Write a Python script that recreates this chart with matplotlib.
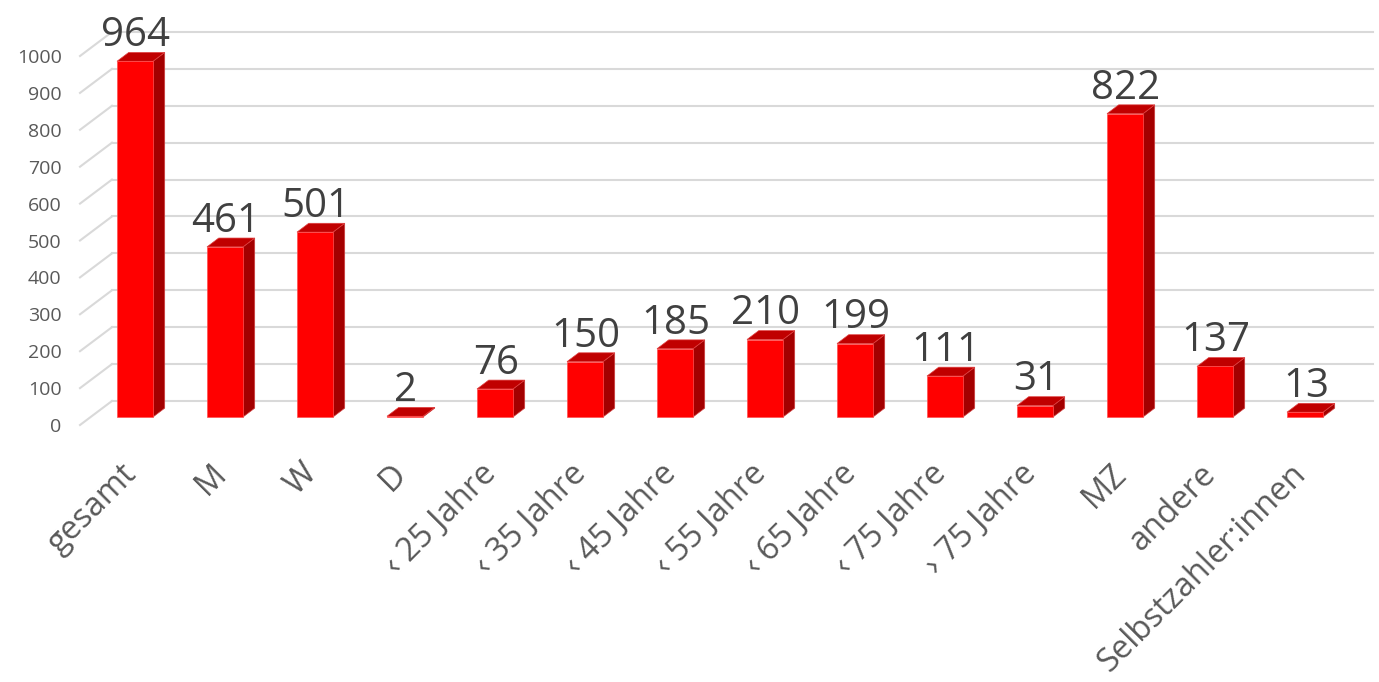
import matplotlib
matplotlib.use("Agg")
from matplotlib import pyplot as plt
from matplotlib.patches import Polygon

plt.rcParams['font.family'] = ['Open Sans', 'DejaVu Sans']

categories = ['gesamt', 'M', 'W', 'D', '‹ 25 Jahre', '‹ 35 Jahre', '‹ 45 Jahre',
              '‹ 55 Jahre', '‹ 65 Jahre', '‹ 75 Jahre', '› 75 Jahre', 'MZ', 'andere',
              'Selbstzahler:innen']
values = [964, 461, 501, 2, 76, 150, 185, 210, 199, 111, 31, 822, 137, 13]
yticks = [0, 100, 200, 300, 400, 500, 600, 700, 800, 900, 1000]

# pseudo-3D geometry (category units / value units)
bar_w = 0.4
bar_dx, bar_dy = 0.13, 24
front_x, front_dy = -0.611, -21.7   # left edge of front plane (floor level offset)
back_x, back_dy = -0.256, 43.4      # left edge of back wall
right_x = 13.756

front_c = '#FF0000'
side_c = '#A30000'
top_c = '#C00000'
grid_c = '#D9D9D9'

fig = plt.figure(figsize=(13.79, 6.82), dpi=100)
W, H = 1379, 682
ax_left, ax_bottom_px = 70, 445
ax = fig.add_axes([ax_left / W, (H - ax_bottom_px) / H, (W - ax_left) / W, ax_bottom_px / H])
ax.set_xlim((ax_left - 135) / 90, (W - 135) / 90)
ax.set_ylim((417 - ax_bottom_px) / 0.369, 417 / 0.369)

# gridlines: short diagonal on the side wall + horizontal on the back wall
for k in yticks:
    ax.plot([front_x, back_x], [k + front_dy, k + back_dy], color=grid_c, lw=1.5, zorder=1)
    ax.plot([back_x, right_x], [k + back_dy, k + back_dy], color=grid_c, lw=1.5, zorder=1)

for i, v in enumerate(values):
    x0, x1 = i - bar_w / 2, i + bar_w / 2
    side = Polygon([(x1, 0), (x1 + bar_dx, bar_dy), (x1 + bar_dx, v + bar_dy), (x1, v)],
                   closed=True, facecolor=side_c, edgecolor='#D04040', lw=0.5, zorder=3)
    top = Polygon([(x0, v), (x1, v), (x1 + bar_dx, v + bar_dy), (x0 + bar_dx, v + bar_dy)],
                  closed=True, facecolor=top_c, edgecolor='#E04040', lw=0.5, zorder=3)
    ax.add_patch(side)
    ax.add_patch(top)
    ax.bar(i, v, width=bar_w, color=front_c, edgecolor='#FF5050', lw=0.5, zorder=4)
    ax.text(i + 0.01, v + bar_dy + 17, str(v), ha='center', va='baseline',
            fontsize=29, color='#404040', zorder=5)

ax.set_yticks([k + front_dy for k in yticks])
ax.set_yticklabels([str(k) for k in yticks], fontsize=14, color='#595959')
ax.set_xticks([i - 0.17 for i in range(len(categories))])
ax.set_xticklabels(categories, fontsize=23.5, color='#595959')
plt.setp(ax.get_xticklabels(), rotation=45, ha='right', rotation_mode='anchor')
ax.tick_params(axis='x', length=0, pad=9)
ax.tick_params(axis='y', length=0, pad=6)
for s in ax.spines.values():
    s.set_visible(False)
ax.patch.set_alpha(0)

fig.savefig('out.png', dpi=100)
